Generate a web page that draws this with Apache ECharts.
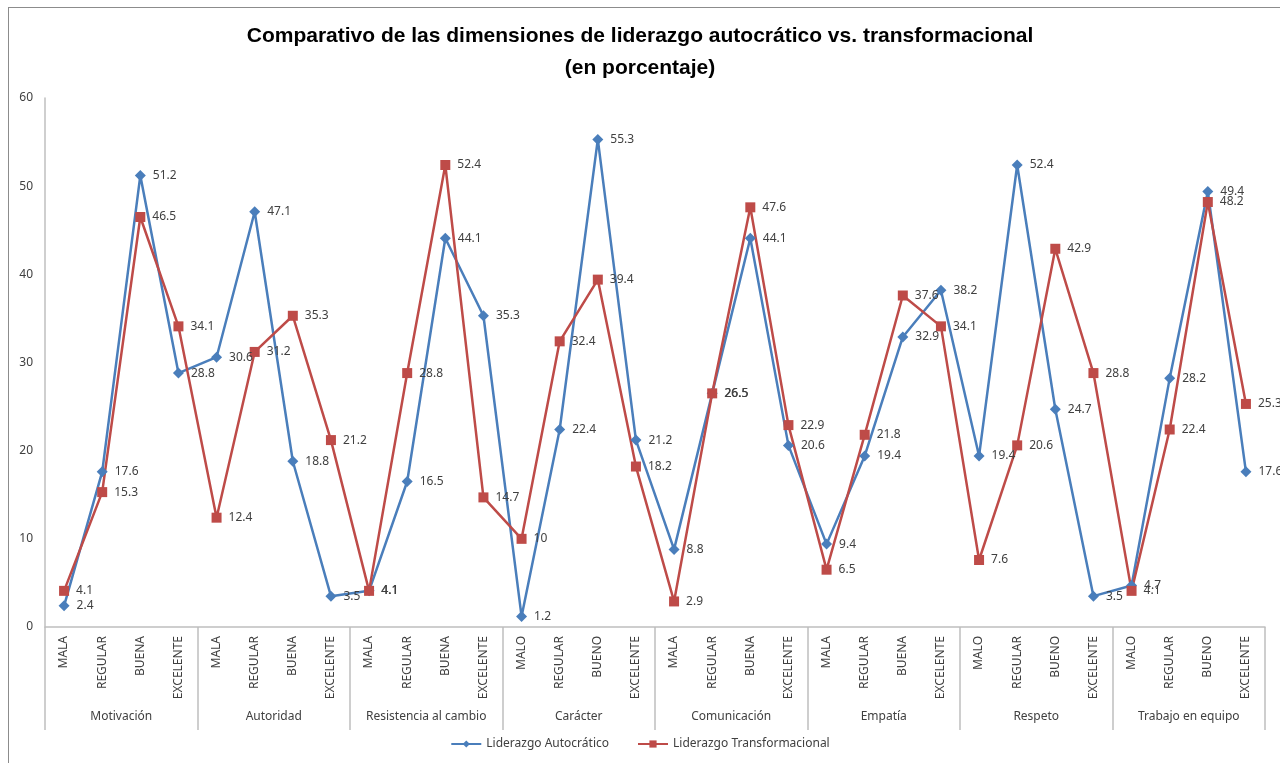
<!DOCTYPE html>
<html>
<head>
<meta charset="utf-8">
<script src="https://cdn.jsdelivr.net/npm/echarts@6/dist/echarts.min.js"></script>
<style>
  html, body { margin: 0; padding: 0; background: #fff; }
  #frame { position: absolute; left: 8px; top: 7px; width: 1290px; height: 780px; border: 1px solid #8c8c8c; }
  #chart { width: 1280px; height: 763px; position: absolute; left: 0; top: 0; }
</style>
</head>
<body>
<div id="frame"></div>
<div id="chart"></div>
<script>
// niveles por dimension
const levels = [
  'MALA', 'REGULAR', 'BUENA', 'EXCELENTE',
  'MALA', 'REGULAR', 'BUENA', 'EXCELENTE',
  'MALA', 'REGULAR', 'BUENA', 'EXCELENTE',
  'MALO', 'REGULAR', 'BUENO', 'EXCELENTE',
  'MALA', 'REGULAR', 'BUENA', 'EXCELENTE',
  'MALA', 'REGULAR', 'BUENA', 'EXCELENTE',
  'MALO', 'REGULAR', 'BUENO', 'EXCELENTE',
  'MALO', 'REGULAR', 'BUENO', 'EXCELENTE'
];
const dimensions = ['Motivación', 'Autoridad', 'Resistencia al cambio', 'Carácter',
  'Comunicación', 'Empatía', 'Respeto', 'Trabajo en equipo'];

const autocratico = [
  2.4, 17.6, 51.2, 28.8,
  30.6, 47.1, 18.8, 3.5,
  4.1, 16.5, 44.1, 35.3,
  1.2, 22.4, 55.3, 21.2,
  8.8, 26.5, 44.1, 20.6,
  9.4, 19.4, 32.9, 38.2,
  19.4, 52.4, 24.7, 3.5,
  4.7, 28.2, 49.4, 17.6
];
const transformacional = [
  4.1, 15.3, 46.5, 34.1,
  12.4, 31.2, 35.3, 21.2,
  4.1, 28.8, 52.4, 14.7,
  10, 32.4, 39.4, 18.2,
  2.9, 26.5, 47.6, 22.9,
  6.5, 21.8, 37.6, 34.1,
  7.6, 20.6, 42.9, 28.8,
  4.1, 22.4, 48.2, 25.3
];
const yTicks = { min: 0, max: 60, interval: 10 };

const textColor = '#404040';
const axisColor = '#bfbfbf';
const font = 'Noto Sans';

const chart = echarts.init(document.getElementById('chart'), null, { renderer: 'canvas' });

const label = {
  show: true,
  position: 'right',
  distance: 7,
  color: textColor,
  fontFamily: font,
  fontSize: 12
};

const option = {
  animation: false,
  title: {
    text: 'Comparativo de las dimensiones de liderazgo autocrático vs. transformacional\n(en porcentaje)',
    left: 'center',
    top: 15,
    textStyle: {
      fontFamily: 'Liberation Sans',
      fontWeight: 'bold',
      fontSize: 21,
      lineHeight: 32,
      color: '#000'
    }
  },
  legend: {
    bottom: 8,
    left: 'center',
    itemWidth: 30,
    itemHeight: 9,
    itemGap: 28,
    textStyle: { fontFamily: font, fontSize: 12, color: textColor },
    data: ['Liderazgo Autocrático', 'Liderazgo Transformacional']
  },
  grid: { left: 45, right: 15, top: 98, bottom: 136, containLabel: false },
  xAxis: [
    {
      type: 'category',
      data: levels,
      boundaryGap: true,
      axisLine: { lineStyle: { color: axisColor, width: 1.5 } },
      axisTick: { show: false },
      axisLabel: {
        interval: 0,
        rotate: 90,
        margin: 9,
        color: textColor,
        fontFamily: font,
        fontSize: 12
      }
    },
    {
      type: 'category',
      data: dimensions,
      position: 'bottom',
      boundaryGap: true,
      axisLine: { show: false },
      axisTick: { show: true, interval: 0, length: 103, lineStyle: { color: axisColor, width: 1.5 } },
      axisLabel: {
        interval: 0,
        margin: 84,
        color: textColor,
        fontFamily: font,
        fontSize: 12
      }
    }
  ],
  yAxis: {
    type: 'value',
    min: yTicks.min,
    max: yTicks.max,
    interval: yTicks.interval,
    axisLine: { show: true, lineStyle: { color: axisColor, width: 1.5 } },
    axisTick: { show: false },
    splitLine: { show: false },
    axisLabel: { color: textColor, fontFamily: font, fontSize: 12, margin: 12 }
  },
  series: [
    {
      name: 'Liderazgo Autocrático',
      type: 'line',
      data: autocratico,
      symbol: 'diamond',
      symbolSize: 11,
      lineStyle: { color: '#4A7EBB', width: 2.5 },
      itemStyle: { color: '#4A7EBB' },
      label: label
    },
    {
      name: 'Liderazgo Transformacional',
      type: 'line',
      data: transformacional,
      symbol: 'rect',
      symbolSize: 10,
      lineStyle: { color: '#BE4B48', width: 2.5 },
      itemStyle: { color: '#BE4B48' },
      label: label
    }
  ]
};

chart.setOption(option);
</script>
</body>
</html>
